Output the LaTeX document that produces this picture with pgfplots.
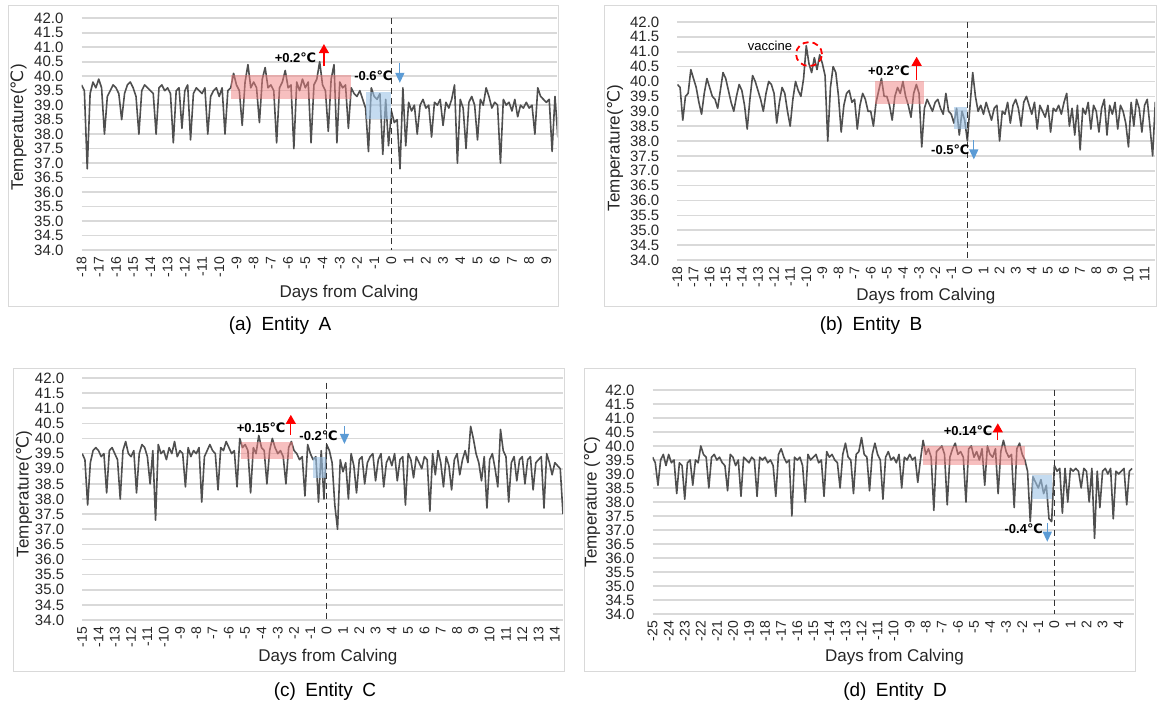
\documentclass[border=0pt]{standalone}
\usepackage{fontspec}
\setmainfont{Liberation Sans}
\newfontfamily\dejavu{DejaVu Sans}
\usepackage{pgfplots}
\usepackage{pgfplotstable}
\pgfplotsset{compat=1.18}
\usetikzlibrary{arrows.meta}

\definecolor{gridgray}{HTML}{D9D9D9}
\definecolor{series}{HTML}{4F4F4F}
\definecolor{upred}{HTML}{FF0000}
\definecolor{downblue}{HTML}{5B9BD5}
\definecolor{hotfill}{HTML}{F08080}
\definecolor{coolfill}{HTML}{9DC3E6}

\newcommand{\dC}{{\dejavu ℃}}

% hourly-ish readings, 6 per day, one day per line
\pgfplotstableread[row sep=\\,header=false]{
39.7\\39.5\\36.8\\39.4\\39.8\\39.6\\
39.9\\39.6\\38.0\\39.3\\39.5\\39.7\\
39.6\\39.4\\38.5\\39.4\\39.7\\39.8\\
39.6\\39.3\\38.0\\39.5\\39.7\\39.6\\
39.5\\39.4\\38.0\\39.6\\39.7\\39.5\\
39.6\\39.4\\37.7\\39.5\\39.6\\38.2\\
39.5\\39.7\\37.8\\39.4\\39.6\\39.5\\
39.4\\39.6\\38.0\\39.3\\39.5\\39.6\\
39.3\\39.6\\38.0\\39.5\\39.6\\40.1\\
39.7\\39.5\\38.3\\39.8\\40.4\\39.6\\
39.8\\39.6\\38.4\\39.9\\40.3\\39.6\\
39.7\\39.5\\37.7\\39.6\\39.8\\40.2\\
39.6\\39.7\\37.5\\39.8\\39.5\\39.9\\
39.6\\39.8\\37.7\\39.7\\39.9\\40.5\\
39.7\\39.5\\38.1\\39.9\\40.4\\37.7\\
39.8\\39.6\\39.7\\38.2\\39.6\\39.4\\
39.3\\39.5\\39.2\\38.9\\37.4\\39.6\\
39.3\\39.2\\39.4\\37.3\\39.2\\37.6\\
38.8\\38.4\\38.5\\36.8\\39.6\\37.6\\
39.1\\38.8\\39.0\\38.0\\39.0\\39.2\\
38.9\\39.0\\37.9\\39.1\\39.0\\39.2\\
38.3\\39.1\\38.9\\39.2\\39.7\\37.0\\
39.2\\38.9\\37.5\\39.1\\39.3\\39.0\\
37.8\\39.2\\39.0\\39.6\\39.3\\38.9\\
39.1\\39.0\\37.0\\39.2\\39.0\\39.1\\
38.8\\39.2\\38.6\\39.0\\38.9\\39.1\\
38.9\\39.0\\38.0\\39.6\\39.3\\39.2\\
39.1\\39.2\\37.4\\39.3\\37.9\\39.2\\
}\tabA

\pgfplotstableread[row sep=\\,header=false]{
39.9\\39.8\\38.7\\39.5\\39.6\\40.4\\
40.1\\39.8\\39.3\\38.9\\39.6\\40.1\\
39.8\\39.5\\39.4\\39.1\\39.7\\40.3\\
40.1\\39.7\\39.3\\39.0\\39.5\\39.9\\
39.7\\39.2\\38.4\\39.4\\40.2\\40.0\\
39.7\\39.4\\39.0\\39.6\\40.0\\39.9\\
39.6\\38.6\\39.3\\39.8\\39.6\\39.0\\
38.5\\39.4\\40.0\\39.7\\39.5\\40.1\\
41.2\\40.6\\40.3\\40.8\\40.4\\40.9\\
40.6\\40.2\\38.0\\39.8\\40.5\\40.3\\
39.5\\38.3\\39.2\\39.6\\39.7\\39.3\\
39.4\\38.4\\39.2\\39.6\\39.4\\39.0\\
39.0\\38.5\\39.3\\39.7\\40.1\\39.5\\
39.5\\39.2\\38.7\\39.5\\39.8\\39.6\\
40.0\\39.5\\39.2\\38.8\\39.6\\39.9\\
39.6\\37.8\\39.1\\39.4\\39.2\\39.0\\
39.3\\39.4\\39.1\\38.9\\39.6\\39.0\\
38.9\\38.6\\39.1\\38.2\\39.0\\38.7\\
38.0\\39.2\\40.3\\39.5\\39.0\\39.2\\
38.9\\39.3\\39.0\\38.7\\39.1\\39.2\\
38.0\\39.0\\38.9\\39.3\\38.6\\39.2\\
39.4\\39.1\\38.5\\39.3\\39.5\\39.2\\
38.9\\39.3\\38.4\\39.2\\39.0\\38.8\\
39.2\\38.3\\39.1\\39.0\\39.2\\38.9\\
39.3\\39.6\\38.5\\39.1\\38.2\\39.2\\
37.7\\39.1\\38.9\\39.3\\38.4\\39.2\\
39.0\\38.3\\39.1\\39.4\\38.2\\39.2\\
38.9\\39.3\\38.4\\39.2\\39.0\\38.6\\
37.8\\39.3\\38.5\\39.4\\39.1\\38.3\\
39.2\\39.4\\38.5\\37.5\\39.3\\39.2\\
}\tabB

\pgfplotstableread[row sep=\\,header=false]{
39.5\\39.3\\37.8\\39.2\\39.6\\39.7\\
39.6\\39.4\\39.5\\38.2\\39.6\\39.7\\
39.5\\39.3\\38.0\\39.6\\39.9\\39.5\\
39.4\\39.6\\38.2\\39.5\\39.8\\39.7\\
39.4\\38.5\\39.6\\37.3\\39.8\\39.5\\
39.6\\39.3\\39.7\\39.5\\39.9\\39.4\\
39.6\\39.5\\38.4\\39.7\\39.4\\39.6\\
39.5\\39.7\\37.9\\39.4\\39.6\\39.8\\
39.6\\39.5\\38.3\\39.7\\39.6\\39.9\\
39.7\\39.5\\39.6\\38.4\\40.0\\39.7\\
39.8\\39.6\\38.2\\39.7\\39.5\\40.1\\
39.7\\39.6\\38.5\\39.6\\40.0\\39.7\\
39.5\\39.6\\39.4\\38.5\\39.7\\39.9\\
39.6\\39.5\\39.3\\39.4\\38.1\\39.8\\
39.5\\39.3\\39.4\\37.9\\39.6\\38.0\\
39.8\\39.6\\39.2\\37.8\\37.0\\39.3\\
38.9\\39.2\\38.0\\39.5\\39.1\\38.2\\
39.3\\39.4\\38.5\\39.2\\39.4\\39.5\\
38.6\\39.3\\39.5\\38.4\\39.2\\39.4\\
39.1\\39.5\\38.6\\39.3\\39.4\\37.8\\
39.5\\39.3\\38.7\\39.4\\39.2\\39.0\\
39.4\\39.3\\37.6\\39.5\\38.8\\39.6\\
39.2\\38.4\\39.4\\39.1\\38.3\\39.3\\
39.5\\38.8\\39.3\\39.6\\39.2\\40.4\\
40.0\\39.5\\39.2\\38.6\\39.4\\37.7\\
39.3\\39.5\\39.0\\38.4\\40.3\\39.6\\
39.4\\37.9\\39.2\\39.4\\38.6\\39.3\\
39.4\\38.5\\39.3\\39.4\\38.3\\39.2\\
39.3\\39.4\\37.7\\39.5\\39.2\\38.8\\
39.2\\39.1\\39.0\\37.5\\
}\tabC

\pgfplotstableread[row sep=\\,header=false]{
39.6\\39.4\\38.6\\39.5\\39.7\\39.3\\
39.7\\39.4\\39.5\\38.3\\39.4\\39.3\\
38.1\\39.4\\39.5\\38.6\\39.5\\39.4\\
40.0\\39.7\\39.6\\38.5\\39.6\\39.7\\
39.5\\39.6\\39.4\\39.3\\38.4\\39.7\\
39.6\\39.3\\39.5\\38.2\\39.6\\39.5\\
39.4\\39.6\\39.5\\38.2\\39.6\\39.5\\
39.6\\39.4\\39.5\\39.3\\38.2\\39.7\\
39.9\\39.6\\39.4\\39.5\\37.5\\39.6\\
39.5\\39.6\\39.3\\38.0\\39.7\\39.5\\
39.6\\39.7\\39.4\\39.5\\38.2\\39.8\\
39.6\\39.7\\39.5\\39.4\\38.5\\39.7\\
40.1\\39.6\\39.5\\38.3\\39.7\\39.8\\
40.3\\39.7\\39.6\\38.4\\39.7\\40.1\\
39.7\\39.5\\38.1\\39.6\\39.8\\39.5\\
39.6\\39.4\\39.7\\38.5\\39.6\\39.5\\
39.7\\39.5\\39.6\\38.7\\39.5\\40.2\\
39.7\\39.9\\39.6\\37.7\\39.8\\39.9\\
40.0\\39.7\\37.9\\39.6\\39.9\\40.1\\
39.7\\39.8\\39.6\\38.0\\39.9\\40.0\\
39.6\\39.8\\39.5\\39.9\\38.6\\40.0\\
39.7\\39.6\\39.9\\38.3\\39.8\\40.2\\
39.8\\39.6\\39.7\\37.8\\39.9\\40.1\\
39.7\\39.5\\39.1\\37.3\\38.9\\38.7\\
38.5\\38.8\\38.3\\38.6\\37.4\\37.3\\
39.3\\39.1\\39.2\\37.6\\39.2\\38.0\\
39.2\\39.1\\39.2\\39.1\\38.5\\39.2\\
39.1\\38.0\\39.2\\36.7\\39.1\\37.8\\
39.1\\39.2\\39.0\\39.2\\37.4\\39.1\\
39.0\\39.1\\39.2\\37.9\\39.1\\39.2\\
}\tabD

\pgfplotsset{
  panel/.style={
    scale only axis, anchor=south west,
    ymin=34, ymax=42, ytick={34,34.5,...,42},
    ymajorgrids, grid style={gridgray, line width=0.8pt},
    axis line style={draw=none}, major tick length=0pt,
    /pgf/number format/assume math mode=true,
    yticklabel style={font=\fontsize{7.5}{8}\selectfont, text=black!85, xshift=-5.5pt,
      /pgf/number format/.cd, fixed, fixed zerofill, precision=1},
    xticklabel style={rotate=90, anchor=east, font=\fontsize{7}{8}\selectfont, text=black!85},
    xlabel={Days from Calving},
    label style={font=\fontsize{8.5}{10}\selectfont, text=black!85},
  },
  temp/.style={series, line width=0.8pt, mark=none, line join=round},
}
\tikzset{
  zero/.style={black!80, densely dashed, line width=0.5pt},
  up/.style={upred, line width=0.6pt, -{Triangle[width=5pt,length=4.5pt]}},
  down/.style={downblue, line width=0.6pt, -{Triangle[width=4.5pt,length=5pt]}},
  note/.style={font=\bfseries\fontsize{6.5}{7}\selectfont},
}

\begin{document}
\begin{tikzpicture}
\useasboundingbox (0,0) rectangle (579pt,352pt);

% chart area frames
\draw[gridgray, line width=0.5pt] (4.05pt,198.5pt) rectangle (279.25pt,349pt);
\draw[gridgray, line width=0.5pt] (302pt,198.5pt) rectangle (578pt,349pt);
\draw[gridgray, line width=0.5pt] (6.85pt,16pt) rectangle (282.4pt,167.5pt);
\draw[gridgray, line width=0.5pt] (292.2pt,16pt) rectangle (567.8pt,167.5pt);

% (a) Entity A
\begin{axis}[panel, at={(40.75pt,227pt)}, width=237.95pt, height=115.85pt,
    xmin=-18, xmax=9.64, xtick={-18,...,9},
    ylabel={Temperature(\dC)},
    ylabel style={at={(axis description cs:-0.1324,0.53)}, anchor=center},
    xlabel style={at={(axis description cs:0.562,0)}, anchor=center, yshift=-21.5pt}]
  \addplot[temp] table[x expr=\coordindex/6-18, y index=0] {\tabA};
  \fill[hotfill, opacity=0.5] (axis cs:-9.3,39.21) rectangle (axis cs:-2.35,40.05);
  \fill[coolfill, opacity=0.6] (axis cs:-1.5,38.52) rectangle (axis cs:0,39.45);
  \draw[zero] (axis cs:0,42) -- (axis cs:0,34);
  \node[note] at (axis cs:-5.57,40.65) {+0.2\dC};
  \draw[up] (axis cs:-3.92,40.35) -- (axis cs:-3.92,41.11);
  \node[note] at (axis cs:-1.05,40.01) {-0.6\dC};
  \draw[down] (axis cs:0.49,40.46) -- (axis cs:0.49,39.77);
\end{axis}

% (b) Entity B
\begin{axis}[panel, at={(338.7pt,222pt)}, width=238.9pt, height=119pt,
    xmin=-18, xmax=11.66, xtick={-18,...,11},
    ylabel={Temperature(\dC)},
    ylabel style={at={(axis description cs:-0.1306,0.47)}, anchor=center},
    xlabel style={at={(axis description cs:0.52,0)}, anchor=center, yshift=-18pt}]
  \addplot[temp] table[x expr=\coordindex/6-18, y index=0] {\tabB};
  \fill[hotfill, opacity=0.5] (axis cs:-5.71,39.23) rectangle (axis cs:-2.7,40.0);
  \fill[coolfill, opacity=0.6] (axis cs:-0.85,38.4) rectangle (axis cs:0,39.15);
  \draw[zero] (axis cs:0,42) -- (axis cs:0,34);
  \draw[upred, densely dashed, line width=0.9pt] (axis cs:-9.83,40.92) ellipse [x radius=6.5pt, y radius=6pt];
  \node[font=\fontsize{6.5}{7}\selectfont] at (axis cs:-12.25,41.19) {vaccine};
  \node[note] at (axis cs:-4.87,40.35) {+0.2\dC};
  \draw[up] (axis cs:-3.15,40.05) -- (axis cs:-3.15,40.83);
  \node[note] at (axis cs:-1.06,37.72) {-0.5\dC};
  \draw[down] (axis cs:0.4,38.03) -- (axis cs:0.4,37.38);
\end{axis}

% (c) Entity C
\begin{axis}[panel, at={(41.1pt,42pt)}, width=240.4pt, height=121pt,
    xmin=-15, xmax=14.5, xtick={-15,...,14},
    ylabel={Temperature(\dC)},
    ylabel style={at={(axis description cs:-0.121,0.52)}, anchor=center},
    xlabel style={at={(axis description cs:0.511,0)}, anchor=center, yshift=-18.65pt}]
  \addplot[temp] table[x expr=\coordindex/6-15, y index=0] {\tabC};
  \fill[hotfill, opacity=0.5] (axis cs:-5.27,39.31) rectangle (axis cs:-2.09,39.89);
  \fill[coolfill, opacity=0.6] (axis cs:-0.84,38.68) rectangle (axis cs:-0.05,39.4);
  \draw[zero] (axis cs:0,41.85) -- (axis cs:0,34);
  \node[note] at (axis cs:-4.02,40.37) {+0.15\dC};
  \draw[up] (axis cs:-2.2,40.12) -- (axis cs:-2.2,40.78);
  \node[note] at (axis cs:-0.5,40.1) {-0.2\dC};
  \draw[down] (axis cs:1.09,40.41) -- (axis cs:1.09,39.82);
\end{axis}

% (d) Entity D
\begin{axis}[panel, at={(326.3pt,45pt)}, width=240.9pt, height=112pt,
    xmin=-25, xmax=4.98, xtick={-25,...,4},
    ylabel={Temperature (\dC)},
    ylabel style={at={(axis description cs:-0.1256,0.5)}, anchor=center},
    xlabel style={at={(axis description cs:0.502,0)}, anchor=center, yshift=-21.65pt}]
  \addplot[temp] table[x expr=\coordindex/6-25, y index=0] {\tabD};
  \fill[hotfill, opacity=0.5] (axis cs:-8.2,39.32) rectangle (axis cs:-1.82,40.0);
  \fill[coolfill, opacity=0.6] (axis cs:-1.4,38.1) rectangle (axis cs:-0.14,38.96);
  \draw[zero] (axis cs:0,42) -- (axis cs:0,34);
  \node[note] at (axis cs:-5.37,40.55) {+0.14\dC};
  \draw[up] (axis cs:-3.52,40.21) -- (axis cs:-3.52,40.81);
  \node[note] at (axis cs:-1.91,37.03) {-0.4\dC};
  \draw[down] (axis cs:-0.44,37.24) -- (axis cs:-0.44,36.58);
\end{axis}

% captions
\node[font=\fontsize{9.5}{11}\selectfont] at (140pt,189pt) {(a)\hspace{0.5em}Entity\hspace{0.5em}A};
\node[font=\fontsize{9.5}{11}\selectfont] at (435.5pt,189pt) {(b)\hspace{0.5em}Entity\hspace{0.5em}B};
\node[font=\fontsize{9.5}{11}\selectfont] at (162.5pt,6.15pt) {(c)\hspace{0.5em}Entity\hspace{0.5em}C};
\node[font=\fontsize{9.5}{11}\selectfont] at (447.5pt,6.15pt) {(d)\hspace{0.5em}Entity\hspace{0.5em}D};
\end{tikzpicture}
\end{document}
